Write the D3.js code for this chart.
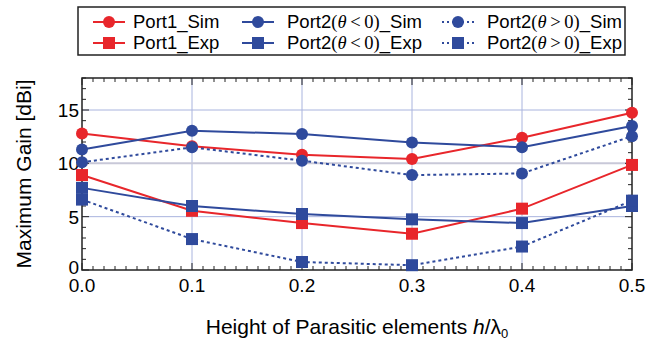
<!DOCTYPE html>
<html>
<head>
<meta charset="utf-8">
<script src="https://cdn.jsdelivr.net/npm/d3@7"></script>
<style>
  body { margin: 0; background: #fff; }
  text { font-family: "Liberation Sans", Arial, sans-serif; }
</style>
</head>
<body>
<div id="chart"></div>
<script>
const heights = [0.0, 0.1, 0.2, 0.3, 0.4, 0.5];
const port1Sim = [12.8, 11.6, 10.8, 10.4, 12.4, 14.75];
const port2NegSim = [11.3, 13.05, 12.75, 11.95, 11.5, 13.5];
const port2PosSim = [10.1, 11.5, 10.25, 8.9, 9.05, 12.55];
const port1Exp = [8.9, 5.55, 4.4, 3.4, 5.75, 9.85];
const port2NegExp = [7.7, 6.0, 5.25, 4.75, 4.4, 6.0];
const port2PosExp = [6.6, 2.9, 0.75, 0.45, 2.2, 6.5];
const xTicks = [0.0, 0.1, 0.2, 0.3, 0.4, 0.5];
const yTicks = [0, 5, 10, 15];

const red = '#e8262b';
const blue = '#2f4a9c';

const series = [
    { name: 'Port1', kind: 'Sim', values: port1Sim, color: red, dotted: false, marker: 'circle' },
    { name: 'Port1', kind: 'Exp', values: port1Exp, color: red, dotted: false, marker: 'square' },
    { name: 'Port2', sign: '<', kind: 'Sim', values: port2NegSim, color: blue, dotted: false, marker: 'circle' },
    { name: 'Port2', sign: '<', kind: 'Exp', values: port2NegExp, color: blue, dotted: false, marker: 'square' },
    { name: 'Port2', sign: '>', kind: 'Sim', values: port2PosSim, color: blue, dotted: true, marker: 'circle' },
    { name: 'Port2', sign: '>', kind: 'Exp', values: port2PosExp, color: blue, dotted: true, marker: 'square' }
];

const width = 656, height = 343;
const margin = { top: 78, right: 24, bottom: 73, left: 82 };
const w = width - margin.left - margin.right;
const h = height - margin.top - margin.bottom;

const svg = d3.select('#chart').append('svg')
    .attr('width', width)
    .attr('height', height);

const x = d3.scaleLinear().domain([0, 0.5]).range([0, w]);
const y = d3.scaleLinear().domain([0, 18]).range([h, 0]);

const chart = svg.append('g')
    .attr('transform', `translate(${margin.left},${margin.top})`);

// grid
chart.append('g')
    .selectAll('line')
    .data(xTicks.slice(1, -1))
    .join('line')
    .attr('x1', d => x(d)).attr('x2', d => x(d))
    .attr('y1', 0).attr('y2', h)
    .attr('stroke', '#a9b4de').attr('stroke-width', 1);
chart.append('g')
    .selectAll('line')
    .data(yTicks.slice(1))
    .join('line')
    .attr('x1', 0).attr('x2', w)
    .attr('y1', d => y(d)).attr('y2', d => y(d))
    .attr('stroke', d => d === 10 ? '#c8c8d8' : '#a9b4de')
    .attr('stroke-width', d => d === 10 ? 2 : 1);

// ticks on all four sides, inward
const xMinor = d3.range(0, 51).map(i => i / 100);
const yMinor = d3.range(0, 19);
const tickG = chart.append('g').attr('stroke', '#222').attr('stroke-width', 1);
xMinor.forEach(v => {
    const len = Math.abs(v * 10 - Math.round(v * 10)) < 1e-6 ? 7 : 4;
    tickG.append('line').attr('x1', x(v)).attr('x2', x(v)).attr('y1', h).attr('y2', h - len);
    tickG.append('line').attr('x1', x(v)).attr('x2', x(v)).attr('y1', 0).attr('y2', len);
});
yMinor.forEach(v => {
    const len = v % 5 === 0 ? 7 : 4;
    tickG.append('line').attr('x1', 0).attr('x2', len).attr('y1', y(v)).attr('y2', y(v));
    tickG.append('line').attr('x1', w).attr('x2', w - len).attr('y1', y(v)).attr('y2', y(v));
});

chart.append('rect')
    .attr('width', w).attr('height', h)
    .attr('fill', 'none').attr('stroke', '#222').attr('stroke-width', 1.5);

// tick labels
chart.append('g')
    .selectAll('text')
    .data(xTicks)
    .join('text')
    .attr('x', d => x(d))
    .attr('y', h + 22)
    .attr('text-anchor', 'middle')
    .attr('font-size', 19)
    .text(d => d.toFixed(1));
chart.append('g')
    .selectAll('text')
    .data(yTicks)
    .join('text')
    .attr('x', -3)
    .attr('y', d => y(d) + (d === 0 ? 4 : 7))
    .attr('text-anchor', 'end')
    .attr('font-size', 19)
    .text(d => d);

// axis titles
svg.append('text')
    .attr('transform', `translate(31,${margin.top + h / 2}) rotate(-90)`)
    .attr('text-anchor', 'middle')
    .attr('font-size', 21)
    .text('Maximum Gain [dBi]');

const xt = svg.append('text')
    .attr('x', margin.left + w / 2)
    .attr('y', 334)
    .attr('text-anchor', 'middle')
    .attr('font-size', 21);
xt.append('tspan').text('Height of Parasitic elements ');
xt.append('tspan').attr('font-style', 'italic').text('h');
xt.append('tspan').text('/λ');
xt.append('tspan').attr('font-size', 13).attr('dy', 4).text('0');

// series
const line = d3.line().x((d, i) => x(heights[i])).y(d => y(d));

function drawMarker(g, type, color, cx, cy) {
    if (type === 'circle') {
        g.append('circle').attr('cx', cx).attr('cy', cy).attr('r', 6).attr('fill', color);
    } else {
        g.append('rect').attr('x', cx - 6).attr('y', cy - 6)
            .attr('width', 12).attr('height', 12).attr('fill', color);
    }
}

series.forEach(s => {
    const g = chart.append('g');
    g.append('path')
        .datum(s.values)
        .attr('d', line)
        .attr('fill', 'none')
        .attr('stroke', s.color)
        .attr('stroke-width', 2)
        .attr('stroke-dasharray', s.dotted ? '3,3' : null);
    s.values.forEach((v, i) => drawMarker(g, s.marker, s.color, x(heights[i]), y(v)));
});

// legend
const legend = svg.append('g');
legend.append('rect')
    .attr('x', 78).attr('y', 7)
    .attr('width', 547).attr('height', 48)
    .attr('fill', '#fff').attr('stroke', '#222').attr('stroke-width', 1.5);

const colX = [93, 242, 442];
const rowY = [22, 43];
series.forEach((s, i) => {
    const col = Math.floor(i / 2), row = i % 2;
    const lx = colX[col], ly = rowY[row];
    const g = legend.append('g');
    g.append('line')
        .attr('x1', lx).attr('x2', lx + 32)
        .attr('y1', ly).attr('y2', ly)
        .attr('stroke', s.color).attr('stroke-width', 2)
        .attr('stroke-dasharray', s.dotted ? '2,3' : null);
    drawMarker(g, s.marker, s.color, lx + 16, ly);
    const t = g.append('text')
        .attr('x', lx + (col === 0 ? 40 : 45))
        .attr('y', ly + 6)
        .attr('font-size', 18.5);
    t.append('tspan').text(s.name);
    if (s.sign) {
        t.append('tspan').attr('font-family', '"Liberation Serif", serif').text('(');
        t.append('tspan').attr('font-family', '"Liberation Serif", serif').attr('font-style', 'italic').text('θ');
        t.append('tspan').attr('font-family', '"Liberation Serif", serif').text(`\u2009${s.sign}\u20090)`);
    }
    t.append('tspan').text('_' + s.kind);
});
</script>
</body>
</html>
